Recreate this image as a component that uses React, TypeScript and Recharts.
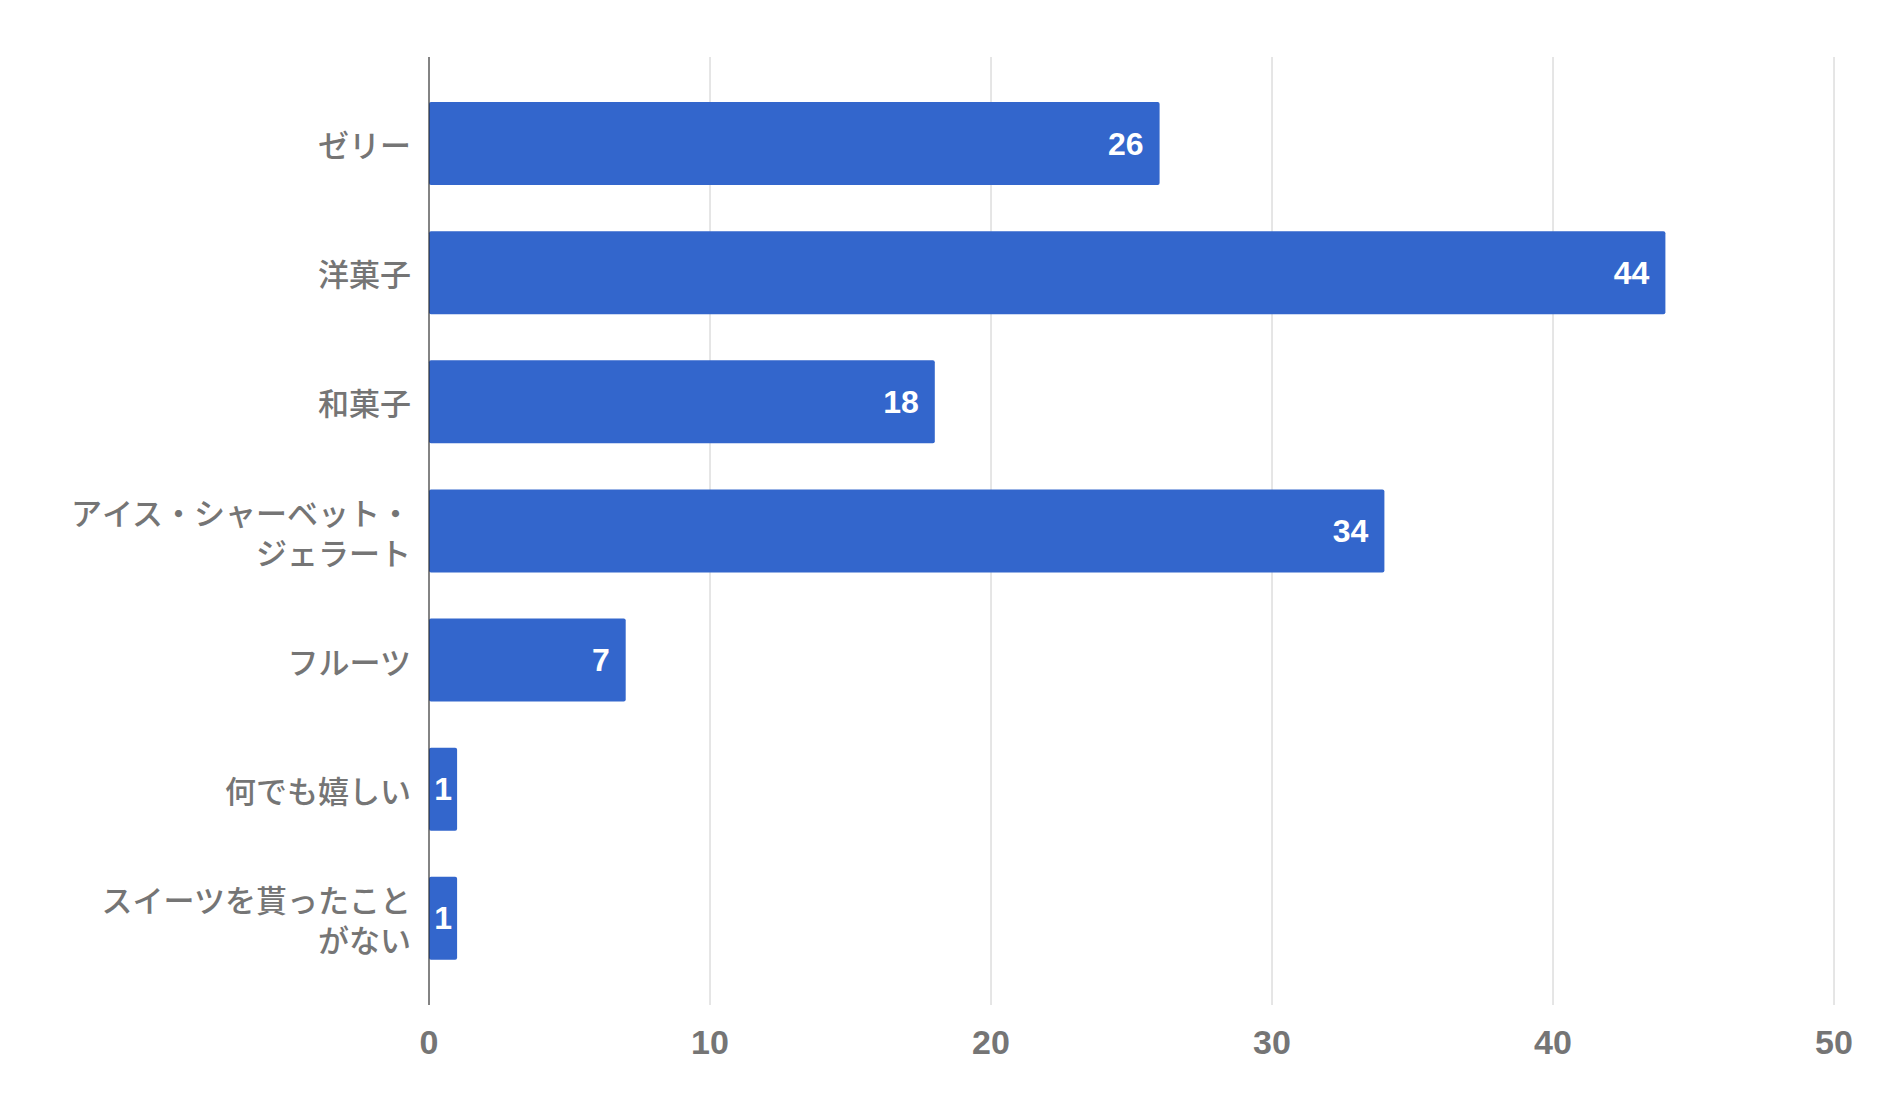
import { Bar, BarChart, CartesianGrid, LabelList, XAxis, YAxis } from "recharts";

// カテゴリ名（改行は "\n"）
const categories = [
  "ゼリー",
  "洋菓子",
  "和菓子",
  "アイス・シャーベット・\nジェラート",
  "フルーツ",
  "何でも嬉しい",
  "スイーツを貰ったこと\nがない",
];

const counts = [26, 44, 18, 34, 7, 1, 1];

const xTicks = [0, 10, 20, 30, 40, 50];

const BAR_COLOR = "#3366cc";
const TEXT_GRAY = "#757575";

const data = categories.map((name, i) => ({ name, value: counts[i] }));

function CategoryTick(props: any) {
  const { x, y, payload } = props;
  const lines = String(payload.value).split("\n");
  const lineHeight = 40;
  const startY = y - ((lines.length - 1) * lineHeight) / 2;
  return (
    <text
      x={x}
      y={startY}
      textAnchor="end"
      fill={TEXT_GRAY}
      fontSize={31}
      fontWeight={500}
      fontFamily='"Noto Sans CJK JP", sans-serif'
    >
      {lines.map((line, i) => (
        <tspan key={i} x={x} y={startY + i * lineHeight} dominantBaseline="central">
          {line}
        </tspan>
      ))}
    </text>
  );
}

function ValueLabel(props: any) {
  const { x, y, width, height, value } = props;
  const fits = width > 80;
  const tx = fits ? x + width - 16 : x + width / 2;
  return (
    <text
      x={tx}
      y={y + height / 2}
      textAnchor={fits ? "end" : "middle"}
      dominantBaseline="central"
      fill="#ffffff"
      fontSize={32}
      fontWeight="bold"
      fontFamily='"Liberation Sans", Arial, sans-serif'
    >
      {value}
    </text>
  );
}

export default function App() {
  return (
    <div style={{ position: "absolute", left: 0, top: 0, background: "#fff" }}>
      <BarChart
        width={1891}
        height={1120}
        data={data}
        layout="vertical"
        margin={{ top: 57, right: 57, bottom: 0, left: 0 }}
      >
        <CartesianGrid horizontal={false} stroke="#cccccc" />
        <XAxis
          type="number"
          domain={[0, 50]}
          ticks={xTicks}
          height={115}
          tickSize={0}
          tickMargin={25}
          axisLine={false}
          tick={{
            fill: TEXT_GRAY,
            fontSize: 34,
            fontWeight: "bold",
            fontFamily: '"Liberation Sans", Arial, sans-serif',
          }}
        />
        <YAxis
          type="category"
          dataKey="name"
          width={429}
          tickSize={0}
          tickMargin={18}
          axisLine={{ stroke: "#222222" }}
          padding={{ top: 22, bottom: 22 }}
          interval={0}
          tick={<CategoryTick />}
        />
        <Bar dataKey="value" fill={BAR_COLOR} barSize={83} radius={2} isAnimationActive={false}>
          <LabelList dataKey="value" content={<ValueLabel />} />
        </Bar>
      </BarChart>
    </div>
  );
}
